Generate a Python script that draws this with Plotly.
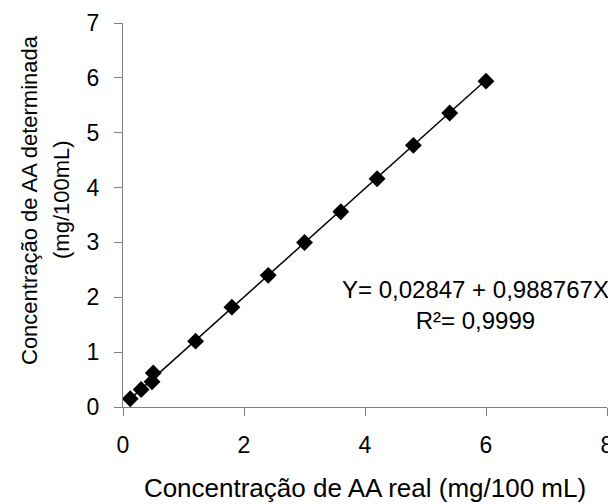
import plotly.graph_objects as go

x_real = [0.12, 0.30, 0.48, 0.50, 1.2, 1.8, 2.4, 3.0, 3.6, 4.2, 4.8, 5.4, 6.0]
y_det = [0.15, 0.32, 0.46, 0.62, 1.20, 1.82, 2.40, 3.00, 3.56, 4.16, 4.77, 5.36, 5.94]
intercept = 0.02847
slope = 0.988767
x_ticks = [0, 2, 4, 6, 8]
y_ticks = [0, 1, 2, 3, 4, 5, 6, 7]

fit_x = [min(x_real), max(x_real)]
fit_y = [intercept + slope * v for v in fit_x]

FONT = "Liberation Sans, Arial, sans-serif"

fig = go.Figure()
fig.add_trace(go.Scatter(x=fit_x, y=fit_y, mode="lines",
                         line=dict(color="black", width=1.5), showlegend=False))
fig.add_trace(go.Scatter(x=x_real, y=y_det, mode="markers",
                         marker=dict(symbol="diamond", size=13, color="black"),
                         showlegend=False))

axis_common = dict(showgrid=False, zeroline=False, showline=True, linecolor="#808080",
                   linewidth=1.2, ticks="outside", ticklen=8, tickcolor="#808080",
                   tickwidth=1.2, automargin=False,
                   tickfont=dict(family=FONT, size=23, color="black"))

fig.update_xaxes(range=[0, 8], tickvals=x_ticks, **axis_common, ticklabelstandoff=9,
                 title=dict(text="Concentração de AA real (mg/100 mL)",
                            font=dict(family=FONT, size=26, color="black"), standoff=22))
fig.update_yaxes(range=[0, 7], tickvals=y_ticks, **axis_common, ticklabelstandoff=10)

for txt, shift in [("Concentração de AA determinada", -94), ("(mg/100mL)", -62)]:
    fig.add_annotation(x=0, y=0.5, xref="paper", yref="paper", showarrow=False,
                       text=txt, textangle=-90, xshift=shift, yshift=15,
                       xanchor="center", yanchor="middle",
                       font=dict(family=FONT, size=22, color="black"))

fig.add_annotation(x=1, y=1.86, xref="paper", yref="y", showarrow=False, xshift=4,
                   text="Y= 0,02847 + 0,988767X<br>R²= 0,9999", align="center",
                   xanchor="right", yanchor="middle",
                   font=dict(family=FONT, size=24, color="black"))

# the page body adds an 8px offset, so margins are set 8px smaller on the left/top
fig.update_layout(width=616, height=504, plot_bgcolor="white", paper_bgcolor="white",
                  margin=dict(l=115, r=17, t=15, b=105))

fig.write_html("out.html")
